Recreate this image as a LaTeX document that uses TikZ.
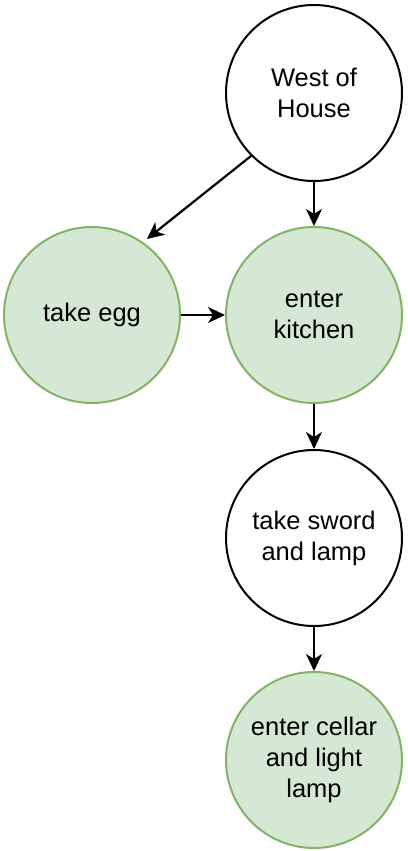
\documentclass[tikz,border=0pt]{standalone}
\usepackage{fontspec}
\setmainfont{Liberation Sans}
\usetikzlibrary{arrows.meta}
\definecolor{gfill}{HTML}{D5E8D4}
\definecolor{gline}{HTML}{82B366}
\begin{document}
\begin{tikzpicture}[x=1pt,y=-1pt,
  state/.style={circle,draw=black,fill=white,line width=2pt,minimum size=176pt,inner sep=0pt,align=center,font=\fontsize{25.5}{31}\selectfont},
  done/.style={state,draw=gline,fill=gfill},
  conn/.style={line width=2.2pt,-{Stealth[length=17pt,width=16pt,inset=5pt]}}]
\useasboundingbox (0,0) rectangle (407,851);
\node[state] (west) at (314,93) {West of\\House};
\node[done] (egg) at (92,315) {take egg};
\node[done] (kitchen) at (314,315) {enter\\kitchen};
\node[state] (sword) at (314,538) {take sword\\and lamp};
\node[done] (cellar) at (314,760) {enter cellar\\and light\\lamp};
\draw[conn] (west.south) -- (kitchen.north);
\draw[conn,shorten >=5pt] (west.225) -- (egg.55);
\draw[conn] (egg.east) -- (kitchen.west);
\draw[conn] (kitchen.south) -- (sword.north);
\draw[conn] (sword.south) -- (cellar.north);
\end{tikzpicture}
\end{document}
